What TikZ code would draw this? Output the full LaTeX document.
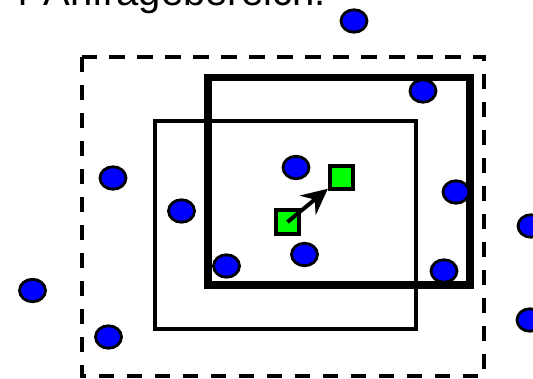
\documentclass[tikz,border=0pt]{standalone}
\usepackage{fontspec}
\setmainfont{Liberation Sans}
\usetikzlibrary{shapes.geometric,arrows.meta}
\tikzset{
	pointA/.style={
		ellipse, draw=black, fill=blue, line width=2.8pt,
		minimum width=26pt, minimum height=22.5pt, inner sep=0pt
	},
	queryA/.style={
		rectangle, draw=black, fill=green, line width=3.8pt,
		minimum size=23.5pt, inner sep=0pt
	},
	>={Stealth[length=26pt,width=25pt,inset=9pt]},
}
\begin{document}
\begin{tikzpicture}[x=1pt, y=-1pt]
\useasboundingbox (0,0) rectangle (533,379);
\node [anchor=base east, inner sep=0pt, font=\fontsize{40}{48}\selectfont] (title) at (326,6) {r Anfragebereich.};
\draw [line width=4pt, dash pattern=on 15.5pt off 12.5pt] (81.5,57) rectangle (484,376);
\draw [line width=4pt] (155,121.5) rectangle (416,329.5);
\draw [line width=7.5pt] (208,77.5) rectangle (470,285);
\node [pointA] (p1) at (354,21) {};
\node [pointA] (p2) at (423,91) {};
\node [pointA] (p3) at (113,178) {};
\node [pointA] (p4) at (296,167.5) {};
\node [pointA] (p5) at (181.5,211) {};
\node [pointA] (p6) at (456,192) {};
\node [pointA] (p7) at (531,226) {};
\node [pointA] (p8) at (226.5,266) {};
\node [pointA] (p9) at (304.5,254.5) {};
\node [pointA] (p10) at (444,271) {};
\node [pointA] (p11) at (32.5,290.5) {};
\node [pointA] (p12) at (108.5,337) {};
\node [pointA] (p13) at (530,320) {};
\node [queryA] (q1) at (341.5,177.5) {};
\node [queryA] (q2) at (287.5,222) {};
\draw [->, line width=4pt] (q2.center) -- (q1);
\end{tikzpicture}
\end{document}
